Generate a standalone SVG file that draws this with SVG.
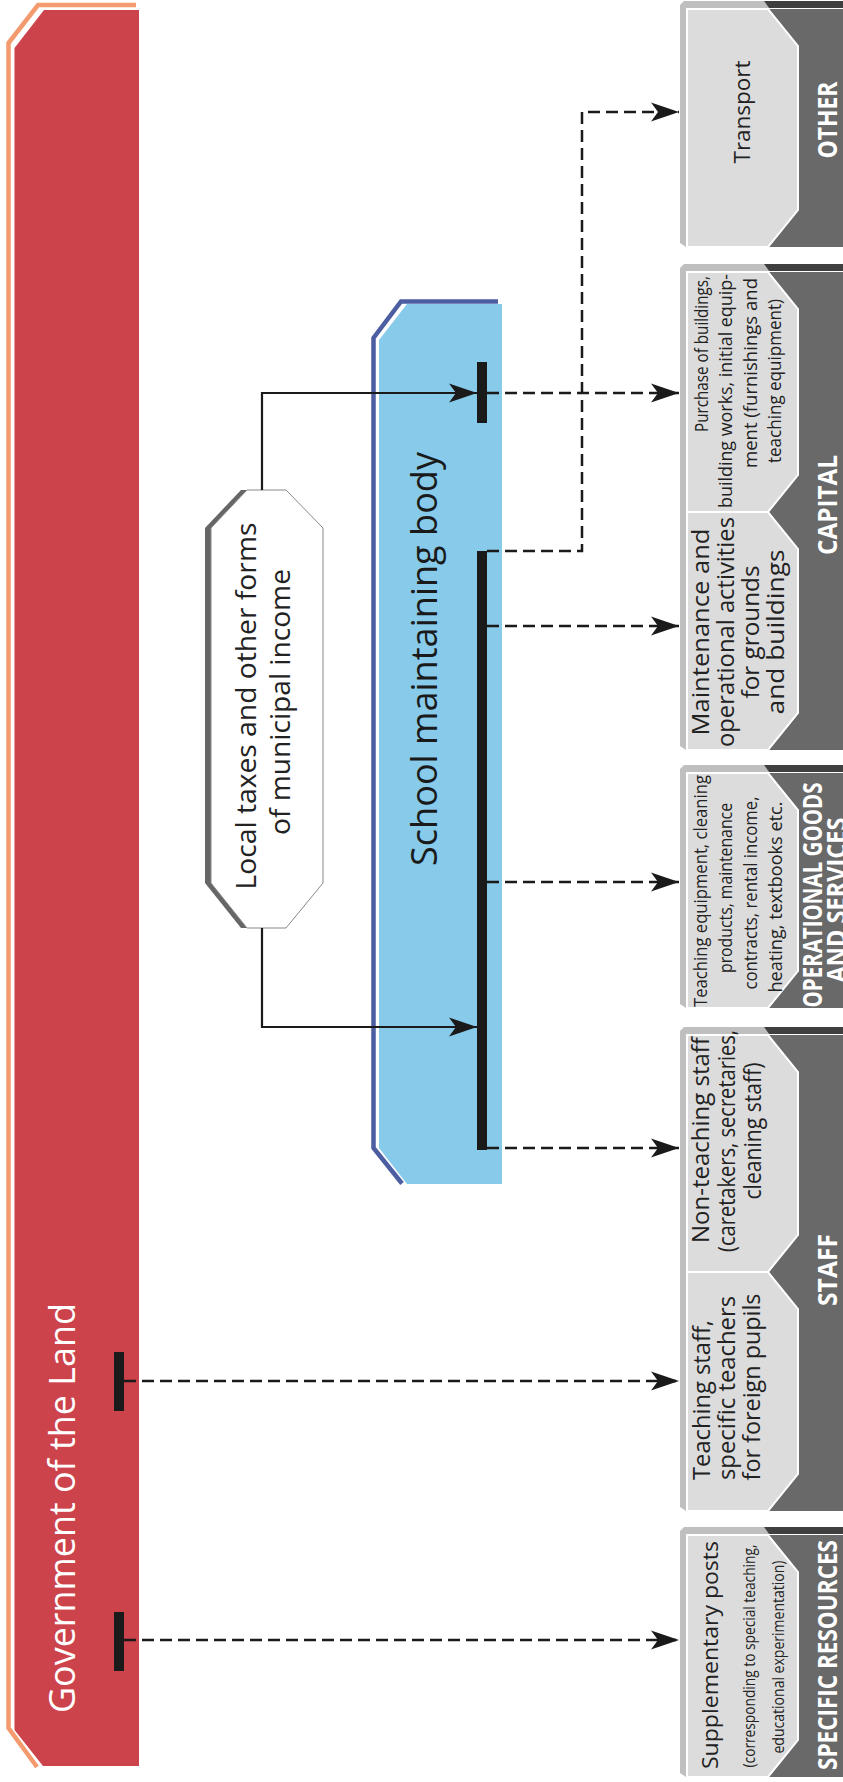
<svg xmlns="http://www.w3.org/2000/svg" width="843" height="1782" viewBox="0 0 843 1782">
<defs>
<style>
text { font-family: "Open Sans", "Noto Sans", "DejaVu Sans", sans-serif; }
.lf { fill:#dcdcdc; stroke:#ffffff; stroke-width:2; }
.df { fill:#696969; }
.lb { fill:#bfbfbf; }
.db { fill:#3f3f3f; }
.t { fill:#222222; text-anchor:middle; }
.cat { fill:#ffffff; font-weight:700; font-size:26px; text-anchor:middle; }
.dash { fill:none; stroke:#1a1a1a; stroke-width:2.5; stroke-dasharray:12 6; }
.solid { fill:none; stroke:#1a1a1a; stroke-width:2.2; }
.bar { fill:#1a1a1a; }
</style>
<marker id="arr" markerWidth="28" markerHeight="20" refX="28" refY="10" orient="auto" markerUnits="userSpaceOnUse" viewBox="0 0 28 20">
<path d="M0,0.5 L28,10 L0,19.5 L7,10 Z" fill="#1a1a1a"/>
</marker>
</defs>
<rect x="0" y="0" width="843" height="1782" fill="#ffffff"/>

<g id="government">
<path d="M136,5 H38 L8.5,43 V1728 L37,1767" fill="none" stroke="#f39a6e" stroke-width="4.5"/>
<polygon points="139,10 44,10 14.5,48 14.5,1730 43,1766 139,1766" fill="#cd434b"/>
<text transform="translate(75,1713) rotate(-90)" font-size="37" textLength="410" lengthAdjust="spacingAndGlyphs" fill="#ffffff">Government of the Land</text>
<rect class="bar" x="114" y="1352" width="10" height="59"/>
<rect class="bar" x="114" y="1612" width="10" height="59"/>
</g>

<g id="school-body">
<path d="M498,301.5 H401 L373.5,338 V1148 L402,1183.5" fill="none" stroke="#4c5ea1" stroke-width="4.5"/>
<polygon points="502,304 407,304 379,340 379,1148 407,1184 502,1184" fill="#87caea"/>
<text transform="translate(437,659) rotate(-90)" font-size="36" textLength="414" lengthAdjust="spacingAndGlyphs" fill="#1a1a1a" text-anchor="middle">School maintaining body</text>
<rect class="bar" x="477" y="362" width="10" height="61"/>
<rect class="bar" x="477" y="551" width="10" height="599"/>
</g>

<g id="local-taxes">
<polygon points="241,490 280,490 317,528 317,883 280,928 241,928 205,883 205,528" fill="#666666"/>
<polygon points="247,490 286,490 323,528 323,883 286,928 247,928 211,883 211,528" fill="#ffffff" stroke="#888888" stroke-width="1"/>
<text class="t" transform="translate(256,706) rotate(-90)" font-size="28" textLength="367" lengthAdjust="spacingAndGlyphs">Local taxes and other forms</text>
<text class="t" transform="translate(290,702) rotate(-90)" font-size="28" textLength="266" lengthAdjust="spacingAndGlyphs">of municipal income</text>
</g>

<g id="box-other">
<polygon class="lb" points="680,5 684,1 764,1 769,8 686,8 686,247 680,243"/>
<polygon class="db" points="764,1 843,1 843,8 769,8"/>
<rect class="df" x="766" y="9" width="77" height="238"/>
<polygon class="lf" points="687,9 768,9 798,46 798,210 768,247 687,247"/>
<text class="t" transform="translate(750,112) rotate(-90)" font-size="22" textLength="103" lengthAdjust="spacingAndGlyphs">Transport</text>
<text class="cat" transform="translate(837,120) rotate(-90)" textLength="77" lengthAdjust="spacingAndGlyphs">OTHER</text>
</g>

<g id="box-capital">
<polygon class="lb" points="680,268 684,264 764,264 769,271 686,271 686,750 680,746"/>
<polygon class="db" points="764,264 843,264 843,271 769,271"/>
<rect class="df" x="766" y="272" width="77" height="478"/>
<polygon class="lf" points="687,272 768,272 798,309 798,475 768,512 687,512"/>
<polygon class="lf" points="687,512 768,512 798,549 798,713 768,750 687,750"/>
<text class="t" transform="translate(708,354) rotate(-90)" font-size="18" textLength="156" lengthAdjust="spacingAndGlyphs">Purchase of buildings,</text>
<text class="t" transform="translate(732,391) rotate(-90)" font-size="18" textLength="234" lengthAdjust="spacingAndGlyphs">building works, initial equip-</text>
<text class="t" transform="translate(757,373) rotate(-90)" font-size="18" textLength="190" lengthAdjust="spacingAndGlyphs">ment (furnishings and</text>
<text class="t" transform="translate(781,381) rotate(-90)" font-size="18" textLength="164" lengthAdjust="spacingAndGlyphs">teaching equipment)</text>
<text class="t" transform="translate(709,632) rotate(-90)" font-size="23" textLength="207" lengthAdjust="spacingAndGlyphs">Maintenance and</text>
<text class="t" transform="translate(734,632) rotate(-90)" font-size="23" textLength="230" lengthAdjust="spacingAndGlyphs">operational activities</text>
<text class="t" transform="translate(759,632) rotate(-90)" font-size="23" textLength="133" lengthAdjust="spacingAndGlyphs">for grounds</text>
<text class="t" transform="translate(784,632) rotate(-90)" font-size="23" textLength="165" lengthAdjust="spacingAndGlyphs">and buildings</text>
<text class="cat" transform="translate(837,505) rotate(-90)" textLength="100" lengthAdjust="spacingAndGlyphs">CAPITAL</text>
</g>

<g id="box-operational">
<polygon class="lb" points="680,769 684,765 764,765 769,772 686,772 686,1008 680,1004"/>
<polygon class="db" points="764,765 843,765 843,772 769,772"/>
<rect class="df" x="766" y="773" width="77" height="235"/>
<polygon class="lf" points="687,773 768,773 798,810 798,971 768,1008 687,1008"/>
<text class="t" transform="translate(707,891) rotate(-90)" font-size="18" textLength="232" lengthAdjust="spacingAndGlyphs">Teaching equipment, cleaning</text>
<text class="t" transform="translate(732,888) rotate(-90)" font-size="18" textLength="170" lengthAdjust="spacingAndGlyphs">products, maintenance</text>
<text class="t" transform="translate(757,893) rotate(-90)" font-size="18" textLength="193" lengthAdjust="spacingAndGlyphs">contracts, rental income,</text>
<text class="t" transform="translate(782,897) rotate(-90)" font-size="18" textLength="191" lengthAdjust="spacingAndGlyphs">heating, textbooks etc.</text>
<text class="cat" transform="translate(822,895) rotate(-90)" font-size="22" textLength="225" lengthAdjust="spacingAndGlyphs">OPERATIONAL GOODS</text>
<text class="cat" transform="translate(846,900) rotate(-90)" font-size="22" textLength="165" lengthAdjust="spacingAndGlyphs">AND SERVICES</text>
</g>

<g id="box-staff">
<polygon class="lb" points="680,1031 684,1027 764,1027 769,1034 686,1034 686,1511 680,1507"/>
<polygon class="db" points="764,1027 843,1027 843,1034 769,1034"/>
<rect class="df" x="766" y="1035" width="77" height="476"/>
<polygon class="lf" points="687,1035 768,1035 798,1072 798,1235 768,1272 687,1272"/>
<polygon class="lf" points="687,1272 768,1272 798,1309 798,1474 768,1511 687,1511"/>
<text class="t" transform="translate(709,1140) rotate(-90)" font-size="23" textLength="206" lengthAdjust="spacingAndGlyphs">Non-teaching staff</text>
<text class="t" transform="translate(735,1141) rotate(-90)" font-size="23" textLength="222" lengthAdjust="spacingAndGlyphs">(caretakers, secretaries,</text>
<text class="t" transform="translate(761,1131) rotate(-90)" font-size="23" textLength="137" lengthAdjust="spacingAndGlyphs">cleaning staff)</text>
<text class="t" transform="translate(710,1400) rotate(-90)" font-size="23" textLength="160" lengthAdjust="spacingAndGlyphs">Teaching staff,</text>
<text class="t" transform="translate(735,1388) rotate(-90)" font-size="23" textLength="184" lengthAdjust="spacingAndGlyphs">specific teachers</text>
<text class="t" transform="translate(760,1387) rotate(-90)" font-size="23" textLength="187" lengthAdjust="spacingAndGlyphs">for foreign pupils</text>
<text class="cat" transform="translate(837,1270) rotate(-90)" textLength="72" lengthAdjust="spacingAndGlyphs">STAFF</text>
</g>

<g id="box-specific">
<polygon class="lb" points="680,1531 684,1527 764,1527 769,1534 686,1534 686,1777 680,1773"/>
<polygon class="db" points="764,1527 843,1527 843,1534 769,1534"/>
<rect class="df" x="766" y="1535" width="77" height="242"/>
<polygon class="lf" points="687,1535 768,1535 798,1572 798,1740 768,1777 687,1777"/>
<text class="t" transform="translate(718,1655) rotate(-90)" font-size="22" textLength="228" lengthAdjust="spacingAndGlyphs">Supplementary posts</text>
<text class="t" transform="translate(755,1656) rotate(-90)" font-size="17" textLength="223" lengthAdjust="spacingAndGlyphs">(corresponding to special teaching,</text>
<text class="t" transform="translate(784,1657) rotate(-90)" font-size="17" textLength="193" lengthAdjust="spacingAndGlyphs">educational experimentation)</text>
<text class="cat" transform="translate(837,1655) rotate(-90)" textLength="230" lengthAdjust="spacingAndGlyphs">SPECIFIC RESOURCES</text>
</g>

<g id="connectors">
<path class="solid" d="M262,490 V393 H477" marker-end="url(#arr)"/>
<path class="solid" d="M262,928 V1027 H477" marker-end="url(#arr)"/>
<path class="dash" d="M487,551 H582 V112 H679" marker-end="url(#arr)"/>
<path class="dash" d="M487,393 H679" marker-end="url(#arr)"/>
<path class="dash" d="M487,626 H679" marker-end="url(#arr)"/>
<path class="dash" d="M487,882 H679" marker-end="url(#arr)"/>
<path class="dash" d="M487,1148 H679" marker-end="url(#arr)"/>
<path class="dash" d="M124,1381 H679" marker-end="url(#arr)"/>
<path class="dash" d="M124,1640 H679" marker-end="url(#arr)"/>
</g>
</svg>
